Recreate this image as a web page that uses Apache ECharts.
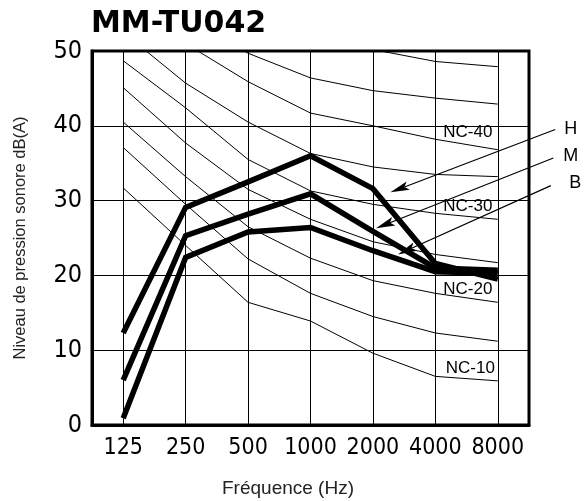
<!DOCTYPE html>
<html>
<head>
<meta charset="utf-8">
<script src="https://cdn.jsdelivr.net/npm/echarts@6/dist/echarts.min.js"></script>
<style>
html,body{margin:0;padding:0;background:#fff;}
#chart{width:587px;height:501px;}
</style>
</head>
<body>
<div id="chart"></div>
<script>
// ---- data ----
const freqLabels = ['125', '250', '500', '1000', '2000', '4000', '8000'];
const yTickMin = 0, yTickMax = 50, yTickStep = 10;

const seriesH = [12.3, 29.1, 32.5, 36.0, 31.6, 21.6, 19.5];
const seriesM = [6.0, 25.3, 28.2, 30.9, 25.9, 21.0, 20.7];
const seriesB = [0.9, 22.4, 25.8, 26.4, 23.3, 20.5, 20.3];

const nc10 = [31.7, 24.0, 16.4, 13.9, 9.6, 6.5, 5.9];
const nc15 = [37.1, 29.5, 22.2, 17.6, 14.5, 12.3, 11.2];
const nc20 = [40.5, 33.2, 26.5, 22.3, 19.3, 17.6, 16.4];
const nc25 = [45.1, 37.7, 31.5, 27.5, 24.5, 22.8, 21.7];
const nc30 = [48.7, 42.4, 35.5, 31.3, 29.5, 28.3, 27.5];
const nc35 = [52.5, 45.7, 40.5, 36.3, 34.5, 33.5, 33.2];
const nc40 = [56.5, 51.0, 45.9, 41.7, 40.0, 38.2, 36.8];
const nc45 = [60.5, 54.5, 49.7, 46.4, 44.7, 43.7, 42.9];
const nc50 = [64.5, 58.5, 54.5, 51.5, 50.2, 48.6, 47.9];

const ncLabelTexts = ['NC-40', 'NC-30', 'NC-20', 'NC-10'];
const ncLabelPos = [[5.52, 39.1], [5.52, 29.3], [5.52, 18.1], [5.56, 7.6]];

const arrowLabels = ['H', 'M', 'B'];
const arrowLabelPos = [[7.17, 39.6], [7.17, 36.0], [7.24, 32.4]];
const arrowTail = [[6.92, 39.5], [6.89, 35.7], [6.85, 32.0]];
const arrowTip = [[4.28, 31.1], [4.05, 26.3], [4.40, 22.8]];

// ---- chart ----
const tickFont = "'DejaVu Sans Condensed','Liberation Sans',sans-serif";
const chart = echarts.init(document.getElementById('chart'), null, {renderer: 'canvas'});

const ncSeries = [nc10, nc15, nc20, nc25, nc30, nc35, nc40, nc45, nc50].map((d, i) => ({
  type: 'line', data: d, symbol: 'none', silent: true, clip: true,
  lineStyle: {color: '#000', width: 1}, z: 2
}));

const mainSeries = [seriesH, seriesM, seriesB].map((d, i) => ({
  type: 'line', data: d, symbol: 'none', silent: true, clip: true,
  lineStyle: {color: '#000', width: 5.5, join: 'miter'}, z: 5
}));

const gridSeries = {
  type: 'line', data: [], silent: true,
  markLine: {
    silent: true, symbol: 'none', animation: false,
    label: {show: false},
    lineStyle: {color: '#000', width: 1, type: 'solid'},
    data: freqLabels.map(f => ({xAxis: f}))
  }
};

const option = {
  animation: false,
  backgroundColor: '#fff',
  title: [
    {text: 'MM-TU042', left: 91, top: 9, padding: 0,
     textStyle: {fontFamily: 'DejaVu Sans', fontWeight: 'bold', fontSize: 30, color: '#000'}},
    {text: 'Fréquence (Hz)', left: 288, top: 479, padding: 0, textAlign: 'center',
     textStyle: {fontFamily: 'Liberation Sans', fontWeight: 'normal', fontSize: 19, color: '#222'}}
  ],
  grid: {left: 92, right: 58, top: 51, bottom: 76, show: true, borderColor: '#000', borderWidth: 3, backgroundColor: 'transparent'},
  xAxis: [
    {type: 'category', data: freqLabels, boundaryGap: true,
     axisLine: {show: true, onZero: false, lineStyle: {color: '#000', width: 3}},
     axisTick: {show: false},
     splitLine: {show: false},
     axisLabel: {interval: 0, margin: 12, color: '#000', fontSize: 23, fontFamily: tickFont}},
    {type: 'value', min: -0.5, max: 6.5, show: false, splitLine: {show: false}}
  ],
  yAxis: {
    type: 'value', min: yTickMin, max: yTickMax, interval: yTickStep,
    name: 'Niveau de pression sonore dB(A)', nameLocation: 'middle', nameGap: 63, nameRotate: 90,
    nameTextStyle: {fontFamily: 'Liberation Sans', fontSize: 16.5, color: '#222'},
    axisLine: {show: true, onZero: false, lineStyle: {color: '#000', width: 3}},
    axisTick: {show: false},
    splitLine: {show: true, lineStyle: {color: '#000', width: 1}},
    axisLabel: {margin: 10, color: '#000', fontSize: 25, fontFamily: tickFont}
  },
  series: [gridSeries].concat(ncSeries, mainSeries)
};
chart.setOption(option);

// ---- annotations positioned through the axes ----
function px(p) { return chart.convertToPixel({xAxisIndex: 1, yAxisIndex: 0}, p); }
const graphics = [];
ncLabelTexts.forEach((t, i) => {
  const p = px(ncLabelPos[i]);
  graphics.push({type: 'text', x: p[0], y: p[1], z: 20, silent: true,
    style: {text: t, fill: '#000', font: "17px 'Liberation Sans', sans-serif", textAlign: 'center', textVerticalAlign: 'middle'}});
});
arrowLabels.forEach((t, i) => {
  const lp = px(arrowLabelPos[i]);
  graphics.push({type: 'text', x: lp[0], y: lp[1], z: 20, silent: true,
    style: {text: t, fill: '#000', font: "18px 'Liberation Sans', sans-serif", textAlign: 'center', textVerticalAlign: 'middle'}});
  const a = px(arrowTail[i]), b = px(arrowTip[i]);
  const dx = b[0] - a[0], dy = b[1] - a[1];
  const len = Math.sqrt(dx * dx + dy * dy);
  const ux = dx / len, uy = dy / len, nx = -uy, ny = ux;
  const L = 19, W = 4.5, notch = 4;
  const bx = b[0] - ux * L, by = b[1] - uy * L;
  const mx = bx + ux * notch, my = by + uy * notch;
  graphics.push({type: 'line', z: 20, silent: true,
    shape: {x1: a[0], y1: a[1], x2: mx, y2: my},
    style: {stroke: '#000', lineWidth: 1.2}});
  graphics.push({type: 'polygon', z: 20, silent: true,
    shape: {points: [[b[0], b[1]], [bx + nx * W, by + ny * W], [mx, my], [bx - nx * W, by - ny * W]]},
    style: {fill: '#000'}});
});
chart.setOption({graphic: graphics});
</script>
</body>
</html>
